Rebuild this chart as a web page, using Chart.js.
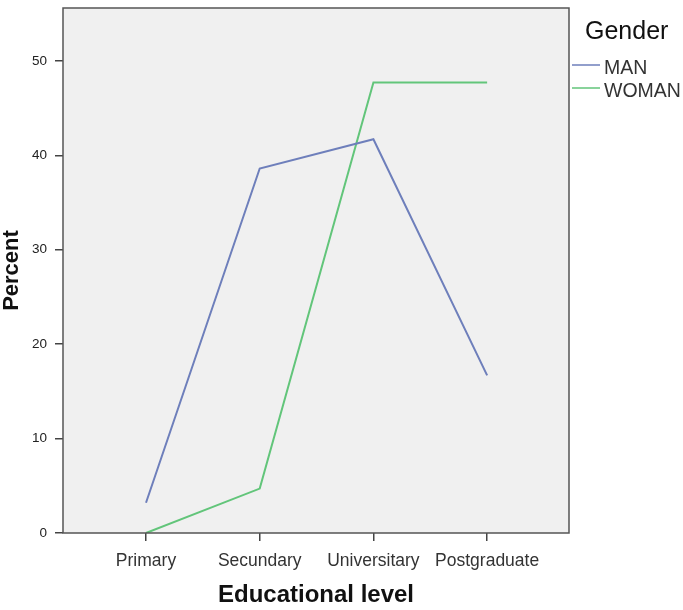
<!DOCTYPE html>
<html>
<head>
<meta charset="utf-8">
<script src="https://cdn.jsdelivr.net/npm/chart.js@4/dist/chart.umd.min.js"></script>
<style>
html,body{margin:0;padding:0;background:#fff;}
#wrap{width:683px;height:610px;}
</style>
</head>
<body>
<div id="wrap"><canvas id="c" width="683" height="610"></canvas></div>
<script>
const categories = ['Primary', 'Secundary', 'Universitary', 'Postgraduate'];
const manValues = [3.2, 38.6, 41.7, 16.7];
const womanValues = [0, 4.7, 47.7, 47.7];
const yTicks = [0, 10, 20, 30, 40, 50];
const seriesNames = ['MAN', 'WOMAN'];
const legendTitle = 'Gender';

const FONT = '"Liberation Sans", Arial, sans-serif';
const colors = ['#6e7fbb', '#62c57a'];

const frame = {
  id: 'frame',
  beforeDraw(chart) {
    const {ctx, chartArea: a} = chart;
    ctx.save();
    ctx.fillStyle = '#f0f0f0';
    ctx.fillRect(a.left, a.top, a.right - a.left, a.bottom - a.top);
    ctx.restore();
  },
  afterDraw(chart) {
    const {ctx, chartArea: a} = chart;
    ctx.save();
    ctx.strokeStyle = '#555';
    ctx.lineWidth = 1.5;
    ctx.strokeRect(a.left, a.top, a.right - a.left, a.bottom - a.top);
    // legend
    ctx.fillStyle = '#111';
    ctx.font = '25px ' + FONT;
    ctx.textBaseline = 'middle';
    ctx.textAlign = 'left';
    ctx.fillText(legendTitle, a.right + 16, 32);
    chart.data.datasets.forEach((ds, i) => {
      const y = 65 + i * 23;
      ctx.strokeStyle = ds.borderColor;
      ctx.lineWidth = 1.5;
      ctx.beginPath();
      ctx.moveTo(a.right + 3, y);
      ctx.lineTo(a.right + 31, y);
      ctx.stroke();
      ctx.fillStyle = '#333';
      ctx.font = '19.5px ' + FONT;
      ctx.fillText(ds.label, a.right + 35, y + 4);
    });
    ctx.restore();
  }
};

const toPoints = vals => vals.map((v, i) => ({x: i, y: v}));

new Chart(document.getElementById('c'), {
  type: 'line',
  data: {
    datasets: [
      {label: seriesNames[0], data: toPoints(manValues), borderColor: colors[0], borderWidth: 2, pointRadius: 0, tension: 0, fill: false},
      {label: seriesNames[1], data: toPoints(womanValues), borderColor: colors[1], borderWidth: 2, pointRadius: 0, tension: 0, fill: false}
    ]
  },
  options: {
    responsive: false,
    animation: false,
    layout: {padding: {top: 8, right: 114, left: 0, bottom: 0}},
    plugins: {legend: {display: false}, tooltip: {enabled: false}},
    scales: {
      x: {
        type: 'linear',
        min: -0.73,
        max: 3.72,
        afterBuildTicks: s => { s.ticks = categories.map((c, i) => ({value: i})); },
        afterFit: s => { s.height = 77; s.paddingLeft = 0; s.paddingRight = 0; },
        grid: {display: true, drawOnChartArea: false, tickLength: 8, color: '#444', lineWidth: 1.5},
        border: {display: false},
        ticks: {
          callback: v => categories[v] ?? '',
          color: '#333',
          font: {family: FONT, size: 17.5},
          padding: 10,
          maxRotation: 0,
          autoSkip: false
        },
        title: {display: true, text: 'Educational level', color: '#111', font: {family: FONT, size: 24, weight: 'bold', lineHeight: 1.2}, padding: {top: 0, bottom: 0}}
      },
      y: {
        min: 0,
        max: 55.6,
        afterBuildTicks: s => { s.ticks = yTicks.map(v => ({value: v})); },
        afterFit: s => { s.width = 63; s.paddingTop = 0; s.paddingBottom = 0; },
        grid: {display: true, drawOnChartArea: false, tickLength: 8, color: '#444', lineWidth: 1.5},
        border: {display: false},
        ticks: {color: '#222', font: {family: FONT, size: 13.5}, padding: 8},
        title: {display: true, text: 'Percent', color: '#111', font: {family: FONT, size: 22, weight: 'bold', lineHeight: 1}, padding: {top: 1, bottom: 1}}
      }
    }
  },
  plugins: [frame]
});
</script>
</body>
</html>
